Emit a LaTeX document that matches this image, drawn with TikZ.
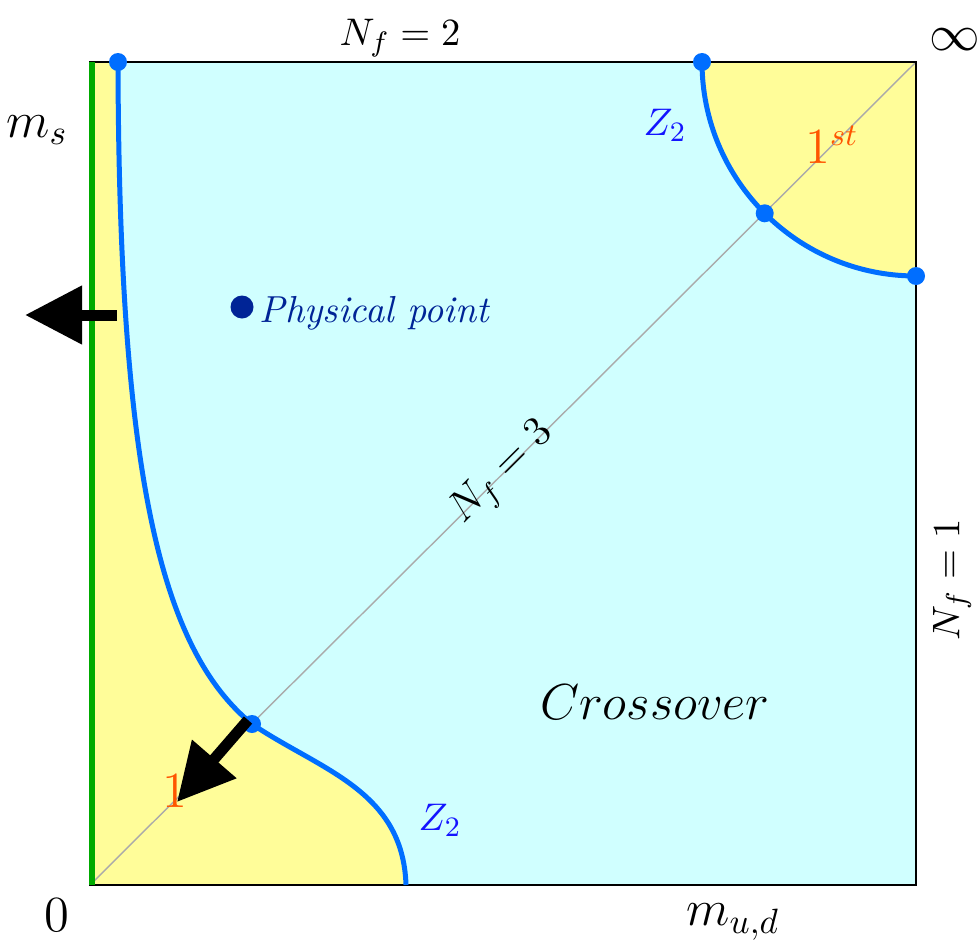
\documentclass[tikz,border=0pt]{standalone}
\usepackage{amsmath}
\definecolor{phcyan}{RGB}{208,255,255}
\definecolor{phyellow}{RGB}{255,253,153}
\definecolor{phcurve}{RGB}{0,110,255}
\definecolor{phnavy}{RGB}{0,36,150}
\definecolor{phgreen}{RGB}{0,170,0}
\definecolor{phorange}{RGB}{255,85,0}
\definecolor{phzblue}{RGB}{20,20,255}
\definecolor{phdiag}{RGB}{170,170,170}
\usetikzlibrary{arrows.meta,positioning,calc}

\begin{document}
\begin{tikzpicture}[
  lbl/.style={inner sep=0pt, font=\fontsize{11.3}{13.6}\selectfont},
  bigl/.style={inner sep=0pt, font=\fontsize{14}{16.8}\selectfont},
  order/.style={inner sep=0pt, text=phorange, font=\fontsize{13.5}{16}\selectfont},
  crit/.style={line width=0.05cm, draw=phcurve},
  critdot/.style={circle, fill=phcurve, minimum size=0.18cm, inner sep=0pt},
  push/.style={-{Triangle[length=0.57cm, width=0.56cm]}, line width=0.11cm, black}
]
\useasboundingbox (0,0) rectangle (9.79,9.43);

% regions
\fill[phcyan] (0.90,0.58) rectangle (9.16,8.81);
\fill[phyellow] (0.90,0.58) -- (0.90,8.81) -- (1.18,8.81)
  .. controls (1.19,4.63) and (1.62,2.93) .. (2.52,2.19)
  .. controls (3.20,1.73) and (4.03,1.53) .. (4.06,0.58) -- cycle;
\fill[phyellow] (7.02,8.81) arc[start angle=180, end angle=270, radius=2.14]
  -- (9.16,8.81) -- cycle;

% N_f = 3 diagonal
\draw[phdiag, line width=0.4pt] (0.90,0.58) -- node[inner sep=0pt, sloped, text=black,
  font=\fontsize{12}{14.4}\selectfont] (nf3) {$N_f=3$} (9.16,8.81);

% frame
\draw[line width=0.02cm] (0.90,0.58) rectangle (9.16,8.81);
\draw[phgreen, line width=0.06cm] (0.92,0.58) -- (0.92,8.81);

% critical lines
\draw[crit] (1.18,8.81)
  .. controls (1.19,4.63) and (1.62,2.93) .. (2.52,2.19)
  .. controls (3.20,1.73) and (4.03,1.53) .. (4.06,0.58);
\draw[crit] (7.02,8.81) arc[start angle=180, end angle=270, radius=2.14];

\node[critdot] (tl) at (1.18,8.81) {};
\node[critdot] (tr) at (7.02,8.81) {};
\node[critdot] (tc) at (7.647,7.297) {};
\node[critdot] (rt) at (9.16,6.67) {};
\node[critdot] (tri) at (2.52,2.19) {};

% physical point
\node[circle, fill=phnavy, minimum size=0.23cm, inner sep=0pt] (phys) at (2.42,6.36) {};
\node[inner sep=0pt, anchor=base west, text=phnavy, font=\fontsize{10.7}{13}\selectfont]
  (physlbl) at (2.59,6.21) {\textit{Physical point}};

% arrows
\coordinate (la) at (1.17,6.28);
\coordinate (lb) at (0.25,6.28);
\coordinate (ba) at (2.48,2.23);
\coordinate (bb) at (1.77,1.41);
\draw[push] (la) -- (lb);
\draw[push] (ba) -- (bb);

% labels
\node[lbl] (nf2) at (4.00,9.05) {$N_f=2$};
\node[bigl] (inf) at (9.55,9.03) {$\infty$};
\node[bigl] (ms) at (0.37,8.13) {$m_s$};
\node[bigl] (zero) at (0.57,0.28) {$0$};
\node[bigl] (mud) at (7.33,0.21) {$m_{u,d}$};
\node[lbl, rotate=90] (nf1) at (9.52,3.63) {$N_f=1$};
\node[inner sep=0pt, font=\fontsize{15.2}{18}\selectfont] (cross) at (6.55,2.41) {$Crossover$};
\node[lbl, text=phzblue] (z2t) at (6.65,8.18) {$Z_2$};
\node[lbl, text=phzblue] (z2b) at (4.40,1.23) {$Z_2$};
\node[order] (first) at (8.32,7.98) {$1^{st}$};
\node[order] (one) at (1.75,1.52) {$1$};
\end{tikzpicture}
\end{document}
